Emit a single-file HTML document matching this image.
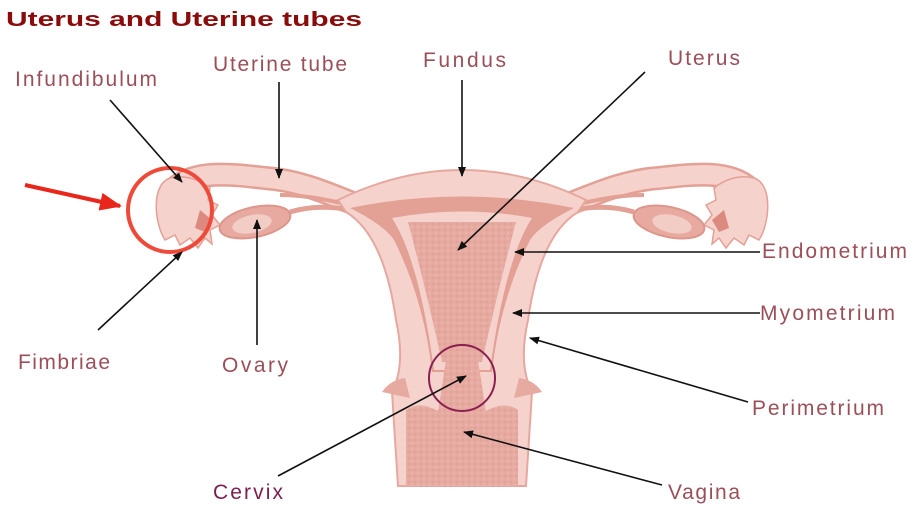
<!DOCTYPE html>
<html><head><meta charset="utf-8"><style>
html,body{margin:0;padding:0;background:#fff;}
svg{display:block;}
text{font-family:"Liberation Sans",sans-serif;}
</style></head><body>
<svg width="920" height="518" viewBox="0 0 920 518" xmlns="http://www.w3.org/2000/svg">
<defs>
<marker id="ah" markerWidth="10" markerHeight="8" refX="9" refY="4" orient="auto" markerUnits="userSpaceOnUse">
<path d="M0,0 L10,4 L0,8 Z" fill="#111"/></marker>
<marker id="rh" markerWidth="22" markerHeight="18" refX="20" refY="9" orient="auto" markerUnits="userSpaceOnUse">
<path d="M0,0 L22,9 L0,18 Z" fill="#e8261c"/></marker>
<pattern id="sp" width="6" height="6" patternUnits="userSpaceOnUse">
<rect width="6" height="6" fill="#e6aaa1"/><circle cx="1" cy="2" r="0.8" fill="#d8948a"/><circle cx="4" cy="5" r="0.8" fill="#f0c2ba"/></pattern>
<g id="side">
<path d="M350,202 C320,190 295,180 265,178 C230,174 195,170 175,188" fill="none" stroke="#e3a095" stroke-width="24" stroke-linecap="round"/>
<path d="M350,202 C320,190 295,180 265,178 C230,174 195,170 175,188" fill="none" stroke="#f5d3cc" stroke-width="19" stroke-linecap="round"/>
<path d="M350,205 C320,198 300,195 280,195" fill="none" stroke="#e3a095" stroke-width="4"/>
<path d="M170,178 C150,185 155,225 165,240 L175,235 L180,245 L190,238 L198,248 L205,238 L212,244 L210,230 L220,225 L212,215 L218,205 L208,200 L210,188 C200,180 185,174 170,178 Z" fill="#f5d3cc" stroke="#e3a095" stroke-width="1.5"/>
<path d="M200,210 L212,220 L205,232 L195,228 Z" fill="#dc8a80"/>
<ellipse cx="255" cy="222" rx="36" ry="15" transform="rotate(-12 255 222)" fill="#e8aaa0" stroke="#dc968c" stroke-width="2"/>
<ellipse cx="252" cy="224" rx="20" ry="9" transform="rotate(-12 252 224)" fill="#f2cdc6"/>
<path d="M290,212 C310,206 330,206 350,210" fill="none" stroke="#e3a095" stroke-width="5"/>
</g>
</defs>
<text x="6" y="26" font-size="20" font-weight="bold" fill="#8b0a0a" textLength="356" lengthAdjust="spacingAndGlyphs">Uterus and Uterine tubes</text>

<use href="#side"/>
<use href="#side" transform="translate(924,0) scale(-1,1)"/>

<path d="M338,200 Q462,140 586,200 L578,212 Q540,235 528,320 Q518,365 532,392 L526,486 L398,486 L392,392 Q406,365 396,320 Q384,235 346,212 Z" fill="#f5d3cc" stroke="#e6a89e" stroke-width="2"/>
<path d="M350,208 Q462,185 574,208 Q540,225 530,240 Q500,300 492,372 L432,372 Q424,300 394,240 Q384,225 350,208 Z" fill="#e3a095"/>
<path d="M392,218 Q462,205 532,218 Q505,260 490,370 L434,370 Q419,260 392,218 Z" fill="#f5d3cc"/>
<path d="M408,222 L516,222 Q498,290 482,362 L442,362 Q426,290 408,222 Z" fill="url(#sp)"/>
<path d="M446,360 L478,360 L486,412 L438,412 Z" fill="url(#sp)"/>
<path d="M382,392 Q390,380 405,378 L410,398 Z" fill="#e6aaa1"/>
<path d="M542,392 Q534,380 519,378 L514,398 Z" fill="#e6aaa1"/>
<path d="M406,410 Q420,400 440,412 L484,412 Q504,400 518,410 L518,486 L406,486 Z" fill="url(#sp)"/>

<circle cx="170" cy="210" r="42" fill="none" stroke="#ee4a3a" stroke-width="4"/>
<line x1="25" y1="185" x2="120" y2="206" stroke="#e8261c" stroke-width="4" marker-end="url(#rh)"/>
<circle cx="462" cy="378" r="33" fill="none" stroke="#8a1f50" stroke-width="2"/>

<g stroke="#111" stroke-width="1.6" fill="none" marker-end="url(#ah)">
<line x1="110" y1="100" x2="182" y2="182"/>
<line x1="98" y1="330" x2="182" y2="252"/>
<line x1="279" y1="82" x2="279" y2="178"/>
<line x1="257" y1="345" x2="257" y2="220"/>
<line x1="462" y1="80" x2="462" y2="176"/>
<line x1="645" y1="72" x2="458" y2="250"/>
<line x1="760" y1="252" x2="515" y2="252"/>
<line x1="760" y1="313" x2="513" y2="313"/>
<line x1="748" y1="402" x2="530" y2="338"/>
<line x1="278" y1="476" x2="466" y2="376"/>
<line x1="662" y1="485" x2="464" y2="432"/>
</g>

<g font-size="21" fill="#9b4f58" lengthAdjust="spacingAndGlyphs">
<text x="15" y="86" textLength="142">Infundibulum</text>
<text x="213" y="71" textLength="134">Uterine tube</text>
<text x="423" y="67" textLength="83">Fundus</text>
<text x="668" y="65" textLength="72">Uterus</text>
<text x="762" y="258" textLength="145">Endometrium</text>
<text x="760" y="320" textLength="135">Myometrium</text>
<text x="752" y="415" textLength="132">Perimetrium</text>
<text x="18" y="369" textLength="92">Fimbriae</text>
<text x="222" y="372" textLength="66">Ovary</text>
<text x="668" y="499" textLength="72">Vagina</text>
<text x="213" y="499" textLength="70" fill="#7a1f4f">Cervix</text>
</g>
</svg>
</body></html>
